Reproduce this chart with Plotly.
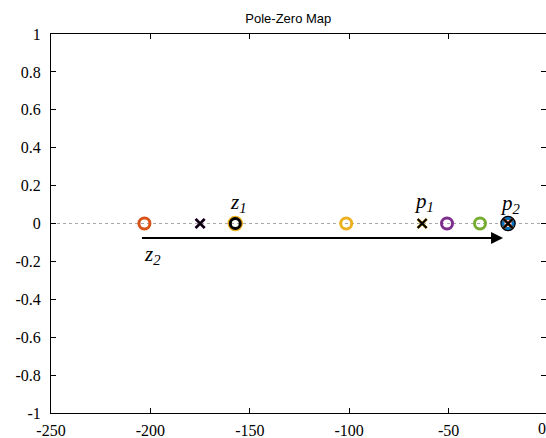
import plotly.graph_objects as go

SERIF = "Liberation Serif"

# Zeros (circles) and poles (crosses) per system colour, real axis values
zero_colors = ["#D95319", "#EDB120", "#000000", "#EDB120", "#7E2F8E", "#77AC30", "#000000", "#0072BD"]
zero_re = [-203.0, -157.3, -157.3, -101.5, -50.8, -34.2, -20.1, -20.1]
zero_size = [11, 12.5, 10, 11, 11, 11, 12.5, 10]
pole_colors = ["#7E2F8E", "#000000", "#EDB120", "#000000", "#D95319", "#000000"]
pole_re = [-175.0, -175.0, -63.3, -63.3, -20.1, -20.1]

x_ticks = [-250, -200, -150, -100, -50, 0]
y_ticks = [-1, -0.8, -0.6, -0.4, -0.2, 0, 0.2, 0.4, 0.6, 0.8, 1]
y_tick_text = ["-1", "-0.8", "-0.6", "-0.4", "-0.2", "0", "0.2", "0.4", "0.6", "0.8", "1"]

arrow_start = -205.0
arrow_end = -22.6
arrow_y = -0.077

labels = [("<i>z<sub>1</sub></i>", -155.8, 0.11), ("<i>z<sub>2</sub></i>", -199.0, -0.165),
          ("<i>p<sub>1</sub></i>", -62.3, 0.115), ("<i>p<sub>2</sub></i>", -19.1, 0.105)]

fig = go.Figure()

# dotted real axis
fig.add_trace(go.Scatter(x=[-250, 0], y=[0, 0], mode="lines",
                         line=dict(color="#a8a8a8", width=1, dash="dot"),
                         hoverinfo="skip", showlegend=False))

# zeros
for c, xr, s in zip(zero_colors, zero_re, zero_size):
    fig.add_trace(go.Scatter(x=[xr], y=[0], mode="markers",
                             marker=dict(symbol="circle-open", size=s, color=c,
                                         line=dict(width=3, color=c)),
                             showlegend=False))
# poles
for c, xr in zip(pole_colors, pole_re):
    fig.add_trace(go.Scatter(x=[xr], y=[0], mode="markers",
                             marker=dict(symbol="x-thin-open", size=9, color=c,
                                         line=dict(width=3 if c != "#000000" else 2.2, color=c)),
                             showlegend=False))

annotations = [dict(x=arrow_end, y=arrow_y, ax=arrow_start, ay=arrow_y,
                    xref="x", yref="y", axref="x", ayref="y", text="",
                    showarrow=True, arrowhead=2, arrowsize=1.2, arrowwidth=2,
                    arrowcolor="black")]
for t, xx, yy in labels:
    annotations.append(dict(x=xx, y=yy, xref="x", yref="y", text=t, showarrow=False,
                            font=dict(family=SERIF, size=21, color="black")))
# partially visible "0" tick label at the clipped right edge
annotations.append(dict(x=1.004, y=0, xref="paper", yref="paper", text="0",
                        showarrow=False, yanchor="top", yshift=-5,
                        font=dict(family=SERIF, size=16, color="black")))

fig.update_layout(
    width=546, height=438,
    margin=dict(l=51, r=0, t=34, b=25),
    paper_bgcolor="white", plot_bgcolor="white",
    annotations=annotations,
    title=dict(text="Pole-Zero Map", x=0.528, xref="container", xanchor="center",
               y=0.958, yref="container", yanchor="middle",
               font=dict(family="Liberation Sans", size=13, color="black")),
)
fig.update_xaxes(range=[-250, -1.0], tickvals=x_ticks, ticktext=[str(v) for v in x_ticks],
                 ticks="inside", ticklen=5, tickcolor="black", showgrid=False, zeroline=False,
                 showline=True, linecolor="black", linewidth=1, mirror="ticks",
                 ticklabelstandoff=3,
                 tickfont=dict(family=SERIF, size=16, color="black"))
fig.update_yaxes(range=[-1, 1], tickvals=y_ticks, ticktext=y_tick_text,
                 ticks="inside", ticklen=5, tickcolor="black", showgrid=False, zeroline=False,
                 showline=True, linecolor="black", linewidth=1, mirror="ticks",
                 ticklabelstandoff=6,
                 tickfont=dict(family=SERIF, size=16, color="black"))

fig.write_html("out.html")
